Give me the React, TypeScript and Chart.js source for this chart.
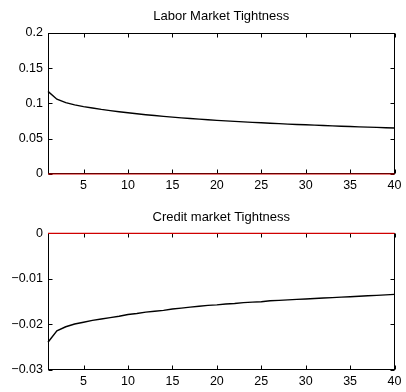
import React, { useEffect, useRef } from "react";
import { Chart, registerables } from "chart.js";

Chart.register(...registerables);

// ---- data ----
const PERIODS = [
  1, 2, 3, 4, 5, 6, 7, 8, 9, 10, 11, 12, 13, 14, 15, 16, 17, 18, 19, 20,
  21, 22, 23, 24, 25, 26, 27, 28, 29, 30, 31, 32, 33, 34, 35, 36, 37, 38, 39, 40,
];

const LABOR_TIGHTNESS = [
  0.117, 0.106, 0.101, 0.098, 0.0955, 0.0935, 0.0915, 0.0898, 0.0882, 0.0867,
  0.0853, 0.084, 0.0828, 0.0816, 0.0805, 0.0795, 0.0786, 0.0777, 0.0768, 0.076,
  0.0752, 0.0745, 0.0738, 0.0731, 0.0725, 0.0719, 0.0713, 0.0707, 0.0702, 0.0697,
  0.0692, 0.0687, 0.0682, 0.0677, 0.0672, 0.0668, 0.0664, 0.066, 0.0656, 0.0652,
];

const CREDIT_TIGHTNESS = [
  -0.0239, -0.0214, -0.0205, -0.0199, -0.0195, -0.0191, -0.0188, -0.0185, -0.0182, -0.0178,
  -0.0176, -0.0173, -0.0171, -0.0169, -0.0166, -0.0164, -0.0162, -0.016, -0.0158, -0.0157,
  -0.0155, -0.0154, -0.0152, -0.0151, -0.015, -0.0148, -0.0147, -0.0146, -0.0145, -0.0144,
  -0.0143, -0.0142, -0.0141, -0.014, -0.0139, -0.0138, -0.0137, -0.0136, -0.0135, -0.0134,
];

const ZERO_LINE = [0, 0];

const X_TICKS = [5, 10, 15, 20, 25, 30, 35, 40];

const LABOR_Y_TICKS = [0, 0.05, 0.1, 0.15, 0.2];
const LABOR_Y_LABELS = ["0", "0.05", "0.1", "0.15", "0.2"];

const CREDIT_Y_TICKS = [-0.03, -0.02, -0.01, 0];
const CREDIT_Y_LABELS = ["\u22120.03", "\u22120.02", "\u22120.01", "0"];

const TITLES = ["Labor Market Tightness", "Credit market Tightness"];

const FONT_FAMILY = "'Liberation Sans', Arial, Helvetica, sans-serif";

const boxPlugin = {
  id: "matlabBox",
  afterLayout(chart: any) {
    // centre the title over the plot area, as MATLAB does
    const tb = chart.titleBlock;
    if (tb) {
      tb.left = chart.chartArea.left;
      tb.right = chart.chartArea.right;
      tb.width = tb.right - tb.left;
    }
  },
  beforeDatasetsDraw(chart: any) {
    const { ctx, chartArea: a, scales } = chart;
    const L = 4;
    const left = Math.round(a.left) + 0.5;
    const right = Math.round(a.right) - 0.5;
    const top = Math.round(a.top) + 0.5;
    const bottom = Math.round(a.bottom) - 0.5;
    ctx.save();
    ctx.strokeStyle = "#000";
    ctx.lineWidth = 1;
    ctx.strokeRect(left, top, right - left, bottom - top);
    ctx.beginPath();
    for (const t of scales.x.ticks) {
      const px = Math.round(scales.x.getPixelForValue(t.value)) + 0.5;
      ctx.moveTo(px, bottom);
      ctx.lineTo(px, bottom - L);
      ctx.moveTo(px, top);
      ctx.lineTo(px, top + L);
    }
    for (const t of scales.y.ticks) {
      const py = Math.round(scales.y.getPixelForValue(t.value)) + 0.5;
      ctx.moveTo(left, py);
      ctx.lineTo(left + L, py);
      ctx.moveTo(right, py);
      ctx.lineTo(right - L, py);
    }
    ctx.stroke();
    ctx.restore();
  },
};

function makeConfig(
  title: string,
  values: number[],
  yTicks: number[],
  yLabels: string[],
  titlePadTop: number,
  titlePadBottom: number
): any {
  const tickFont = { family: FONT_FAMILY, size: 12.5, weight: "normal" as const };
  const titleFont = { family: FONT_FAMILY, size: 13, weight: "normal" as const };
  return {
    type: "line",
    data: {
      datasets: [
        {
          data: PERIODS.map((x, i) => ({ x, y: values[i] })),
          borderColor: "#000",
          borderWidth: 1.4,
          pointRadius: 0,
          tension: 0,
          clip: false,
          order: 1,
        },
        {
          data: [
            { x: PERIODS[0], y: ZERO_LINE[0] },
            { x: PERIODS[PERIODS.length - 1], y: ZERO_LINE[1] },
          ],
          borderColor: "#d00000",
          borderWidth: 1.2,
          pointRadius: 0,
          clip: false,
          order: 0,
        },
      ],
    },
    options: {
      responsive: false,
      animation: false,
      events: [],
      layout: { padding: { left: 0, right: 7, top: 0, bottom: 0 } },
      plugins: {
        legend: { display: false },
        tooltip: { enabled: false },
        title: {
          display: true,
          text: title,
          color: "#000",
          font: titleFont,
          padding: { top: titlePadTop, bottom: titlePadBottom },
        },
      },
      scales: {
        x: {
          type: "linear",
          min: PERIODS[0],
          max: PERIODS[PERIODS.length - 1],
          grid: { display: false, drawTicks: false },
          border: { display: false },
          ticks: {
            color: "#000",
            font: tickFont,
            padding: 4.5,
            maxRotation: 0,
            autoSkip: false,
            callback: (v: number) => String(v),
          },
          afterBuildTicks: (s: any) => {
            s.ticks = X_TICKS.map((v) => ({ value: v }));
          },
          afterFit: (s: any) => {
            s.height = 22;
          },
        },
        y: {
          type: "linear",
          min: yTicks[0],
          max: yTicks[yTicks.length - 1],
          grid: { display: false, drawTicks: false },
          border: { display: false },
          ticks: {
            color: "#000",
            font: tickFont,
            padding: 5,
            autoSkip: false,
            callback: (v: number) => {
              const idx = yTicks.findIndex((t) => Math.abs(t - v) < 1e-9);
              return idx >= 0 ? yLabels[idx] : "";
            },
          },
          afterBuildTicks: (s: any) => {
            s.ticks = yTicks.map((v) => ({ value: v }));
          },
          afterFit: (s: any) => {
            s.width = 48;
          },
        },
      },
    },
    plugins: [boxPlugin],
  };
}

export default function App() {
  const topRef = useRef<HTMLCanvasElement | null>(null);
  const botRef = useRef<HTMLCanvasElement | null>(null);

  useEffect(() => {
    const c1 = new Chart(
      topRef.current as HTMLCanvasElement,
      makeConfig(TITLES[0], LABOR_TIGHTNESS, LABOR_Y_TICKS, LABOR_Y_LABELS, 9, 8.2)
    );
    const c2 = new Chart(
      botRef.current as HTMLCanvasElement,
      makeConfig(TITLES[1], CREDIT_TIGHTNESS, CREDIT_Y_TICKS, CREDIT_Y_LABELS, 14, 7.8)
    );
    return () => {
      c1.destroy();
      c2.destroy();
    };
  }, []);

  return (
    <div
      style={{
        position: "absolute",
        left: 0,
        top: 0,
        width: 406,
        height: 392,
        background: "#fff",
      }}
    >
      <canvas
        ref={topRef}
        width={406}
        height={196}
        style={{ position: "absolute", left: 0, top: 0, width: 406, height: 196 }}
      />
      <canvas
        ref={botRef}
        width={406}
        height={196}
        style={{ position: "absolute", left: 0, top: 196, width: 406, height: 196 }}
      />
    </div>
  );
}
